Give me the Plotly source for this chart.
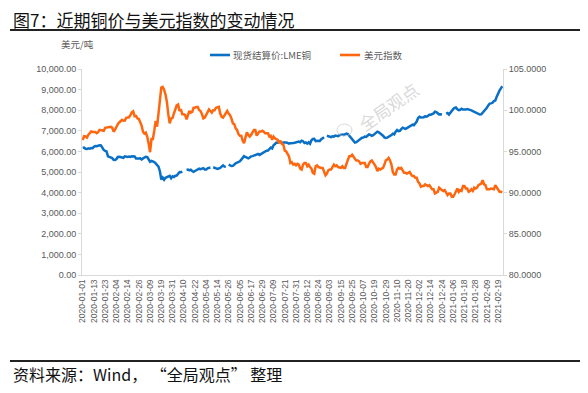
import pandas as pd
import plotly.graph_objects as go

# ---- categories: trading days shown on the axis ----
dates = [d.strftime("%Y-%m-%d") for d in pd.bdate_range("2020-01-01", "2021-02-24")
         if d.strftime("%Y-%m-%d") != "2021-01-01"]

# ---- LME copper cash settlement (USD/t), None = LME holiday ----
copper = [
    6170, 6188, 6129, 6114, 6150, 6128, 6164, 6157,
    6225, 6260, 6250, 6280, 6300, 6290, 6175, 6070,
    6020, 5995, 5760, 5730, 5720, 5680, 5590, 5580,
    5630, 5730, 5740, 5710, 5680, 5690, 5760, 5730,
    5730, 5750, 5730, 5760, 5740, 5750, 5650, 5640,
    5650, 5660, 5610, 5660, 5690, 5740, 5720, 5630,
    5500, 5540, 5520, 5480, 5420, 5330, 5260, 5040,
    4640, 4730, 4620, 4720, 4760, 4790, 4810, 4700,
    4790, 4760, 4820, 4830, 4910, 5000, 4990, 5020,
    None, None, 5100, 5120, 5080, 5110, 5050, 5010,
    5050, 5090, 5110, 5160, 5140, 5170, 5190, 5120,
    5120, 5180, 5190, 5220, None, 5230, 5220, 5180,
    5150, 5170, 5200, 5260, 5320, 5260, 5250, None,
    5360, 5310, 5290, 5300, 5380, 5420, 5450, 5470,
    5520, 5600, 5690, 5770, 5730, 5680, 5660, 5700,
    5760, 5770, 5800, 5820, 5860, 5880, 5830, 5870,
    5940, 5970, 6000, 6030, 6040, 6120, 6180, 6140,
    6300, 6360, 6430, 6420, 6470, 6440, 6410, 6430,
    6440, 6430, 6410, 6380, 6400, 6420, 6410, 6420,
    6430, 6460, 6480, 6450, 6520, 6490, 6410, 6440,
    6380, 6440, 6370, 6540, 6600, 6610, 6500, 6520,
    6530, 6510, 6590, 6630, 6690, None, 6760, 6730,
    6700, 6690, 6730, 6720, 6770, 6760, 6740, 6790,
    6810, 6820, 6800, 6840, 6860, 6840, 6760, 6640,
    6580, 6490, 6430, 6450, 6500, 6560, 6620, 6660,
    6670, 6720, 6700, 6760, 6820, 6800, 6760, 6790,
    6850, 6900, 6960, 6930, 6880, 6810, 6760, 6680,
    6650, 6670, 6700, 6740, 6790, 6860, 6830, 6960,
    7040, 6980, 7000, 7080, 7150, 7120, 7090, 7130,
    7180, 7200, 7260, 7300, 7270, 7340, 7450, 7620,
    7680, 7650, 7640, 7660, 7700, 7690, 7720, 7780,
    7780, 7800, 7840, 7930, 7910, 7850, 7790, 7800,
    7790, None, None, 7830, 7860, 7790, 7900, 7950,
    8050, 8110, 8130, 8040, 8000, 8020, 8070, 8030,
    8020, 8030, 8050, 8040, 8020, 7990, 7960, 7930,
    7920, 7860, 7820, 7790, 7800, 7870, 7950, 8030,
    8120, 8230, 8320, 8330, 8360, 8440, 8470, 8650,
    8820, 8950, 9060, 9160,
]

# ---- US dollar index ----
dxy = [
    96.39, 96.84, 96.81, 96.67, 97.00, 97.29, 97.42, 97.36,
    97.35, 97.36, 97.22, 97.33, 97.62, 97.57, 97.55, 97.51,
    97.86, 97.88, 97.99, 97.97, 97.99, 97.89, 97.39, 97.61,
    97.99, 98.31, 98.51, 98.69, 98.84, 98.72, 98.73, 99.07,
    99.11, 99.14, 99.39, 99.73, 99.86, 99.26, 99.30, 99.01,
    98.93, 98.47, 98.13, 97.36, 97.16, 97.27, 96.78, 95.95,
    94.90, 96.50, 96.50, 97.50, 98.70, 98.00, 99.60, 101.20,
    102.75, 102.82, 102.50, 101.90, 101.00, 99.50, 98.40, 99.00,
    99.05, 99.60, 100.10, 100.60, 100.70, 99.90, 100.10, 99.50,
    99.50, 99.40, 98.90, 99.50, 99.90, 99.70, 99.80, 100.30,
    100.30, 100.40, 100.40, 100.00, 99.90, 99.50, 99.00, 99.10,
    99.50, 99.80, 100.10, 99.90, 99.70, 100.00, 100.00, 100.30,
    100.40, 100.40, 99.60, 99.20, 99.10, 99.40, 99.70, 99.90,
    99.60, 99.40, 99.00, 98.40, 98.30, 97.80, 97.60, 97.10,
    96.90, 96.90, 96.30, 96.00, 96.70, 97.30, 97.00, 96.80,
    97.00, 97.40, 97.60, 97.60, 96.90, 97.20, 97.40, 97.40,
    97.50, 97.40, 97.20, 97.20, 97.20, 96.80, 96.90, 96.40,
    96.80, 96.60, 96.50, 96.40, 96.00, 96.30, 95.90, 95.80,
    95.10, 95.00, 94.70, 94.40, 93.60, 93.70, 93.40, 93.50,
    93.30, 93.50, 93.40, 92.90, 92.80, 93.40, 93.60, 93.60,
    93.20, 93.40, 93.10, 92.90, 92.40, 92.30, 93.20, 93.30,
    93.10, 93.00, 93.00, 93.00, 92.40, 92.10, 92.30, 92.70,
    92.80, 92.80, 93.10, 93.40, 93.20, 93.30, 93.10, 93.00,
    93.00, 93.20, 93.00, 93.00, 93.60, 94.00, 94.40, 94.40,
    94.60, 94.30, 94.10, 93.90, 93.90, 93.80, 93.50, 93.60,
    93.60, 93.60, 93.10, 93.10, 93.50, 93.80, 93.90, 93.70,
    93.40, 93.10, 92.60, 92.90, 92.80, 92.90, 93.00, 93.40,
    93.90, 94.00, 94.20, 93.90, 93.40, 92.50, 92.20, 92.20,
    92.80, 93.00, 92.90, 93.00, 92.60, 92.40, 92.40, 92.30,
    92.40, 92.50, 92.20, 92.00, 92.00, 91.80, 91.80, 91.30,
    91.10, 90.70, 90.80, 90.80, 91.00, 90.90, 90.80, 90.90,
    90.70, 90.40, 90.40, 89.90, 90.00, 90.10, 90.60, 90.40,
    90.30, 90.20, 90.30, 90.00, 89.70, 89.90, 89.90, 89.50,
    89.50, 89.80, 90.10, 90.50, 90.10, 90.30, 90.20, 90.80,
    90.80, 90.50, 90.50, 90.10, 90.20, 90.40, 90.20, 90.60,
    90.50, 90.60, 90.90, 91.00, 91.10, 91.50, 91.00, 90.90,
    90.40, 90.40, 90.40, 90.50, 90.40, 90.40, 90.90, 90.60,
    90.35, 90.10, 90.10, 90.05,
]

tick_labels = dates[::8]

assert len(dates) == len(copper) == len(dxy) == 300

title_text = "图7：近期铜价与美元指数的变动情况"
source_text = "资料来源：Wind， “全局观点” 整理"
unit_text = "美元/吨"
name_copper = "现货结算价:LME铜"
name_dxy = "美元指数"

BLUE = "#0A70C6"
ORANGE = "#FF670F"
GREY = "#595959"
AXIS = "#D9D9D9"

fig = go.Figure()
fig.add_trace(go.Scatter(x=dates, y=copper, name=name_copper, mode="lines",
                         line=dict(color=BLUE, width=2.5), connectgaps=False))
fig.add_trace(go.Scatter(x=dates, y=dxy, name=name_dxy, mode="lines", yaxis="y2",
                         line=dict(color=ORANGE, width=2.5)))

# the page body has an 8px margin: work in window pixels, shifted by OFF
OFF = 8
L, R, T, B = 82 - OFF, 503 - OFF, 69 - OFF, 275 - OFF
W, H = 588 - OFF, 393 - OFF
pw, ph = R - L, B - T


def px(x):
    return (x - OFF - L) / pw


def py(y):
    return (B - (y - OFF)) / ph


tick_font = dict(family="Liberation Sans, Arial, sans-serif", size=9, color=GREY)

fig.update_layout(
    width=W, height=H,
    margin=dict(l=L, r=W - R, t=T, b=H - B),
    paper_bgcolor="white", plot_bgcolor="white",
    showlegend=False,
    xaxis=dict(type="category", range=[-0.5, len(dates) - 0.5],
               tickmode="array", tickvals=tick_labels, ticktext=tick_labels,
               tickangle=-90, tickfont=dict(family="Liberation Sans, Arial, sans-serif", size=8.5, color=GREY),
               showgrid=False, showline=True, linecolor=AXIS, linewidth=1,
               ticks="", zeroline=False),
    yaxis=dict(range=[0, 10000], dtick=1000, tickformat=",.2f",
               tickfont=tick_font, showgrid=False, showline=True,
               linecolor=AXIS, linewidth=1, ticks="outside", ticklen=3,
               tickcolor=AXIS, zeroline=False),
    yaxis2=dict(range=[80, 105], dtick=5, tickformat=".4f", overlaying="y",
                side="right", tickfont=tick_font, showgrid=False, showline=True,
                linecolor=AXIS, linewidth=1, ticks="outside", ticklen=3,
                tickcolor=AXIS, zeroline=False),
)

annotations = [
    dict(text=title_text, x=px(11), y=py(19), xref="paper", yref="paper",
         xanchor="left", yanchor="middle", showarrow=False,
         font=dict(family="Noto Sans CJK SC", size=17, color="#111111")),
    dict(text=source_text, x=px(11), y=py(374), xref="paper", yref="paper",
         xanchor="left", yanchor="middle", showarrow=False,
         font=dict(family="Noto Sans CJK SC", size=16, color="#111111")),
    dict(text=unit_text, x=px(59), y=py(44), xref="paper", yref="paper",
         xanchor="left", yanchor="middle", showarrow=False,
         font=dict(family="Noto Sans CJK SC", size=9.5, color=GREY)),
    dict(text=name_copper, x=px(231), y=py(55), xref="paper", yref="paper",
         xanchor="left", yanchor="middle", showarrow=False,
         font=dict(family="Noto Sans CJK SC", size=9.5, color=GREY)),
    dict(text=name_dxy, x=px(362), y=py(55), xref="paper", yref="paper",
         xanchor="left", yanchor="middle", showarrow=False,
         font=dict(family="Noto Sans CJK SC", size=9.5, color=GREY)),
    dict(text="全局观点", x=px(388), y=py(106), xref="paper", yref="paper",
         xanchor="center", yanchor="middle", showarrow=False, textangle=-35,
         font=dict(family="Noto Sans CJK SC", size=17, color="rgba(200,200,200,0.7)")),
]

shapes = [
    dict(type="line", xref="paper", yref="paper", x0=px(10), x1=px(581),
         y0=py(30), y1=py(30), line=dict(color="#222222", width=2)),
    dict(type="line", xref="paper", yref="paper", x0=px(10), x1=px(581),
         y0=py(361), y1=py(361), line=dict(color="#222222", width=2)),
    dict(type="line", xref="paper", yref="paper", x0=px(210), x1=px(230),
         y0=py(55), y1=py(55), line=dict(color=BLUE, width=2.6)),
    dict(type="line", xref="paper", yref="paper", x0=px(340), x1=px(360),
         y0=py(55), y1=py(55), line=dict(color=ORANGE, width=2.6)),
    dict(type="circle", xref="paper", yref="paper", x0=px(337), x1=px(352),
         y0=py(136), y1=py(124), line=dict(color="rgba(200,200,200,0.7)", width=1)),
]

fig.update_layout(annotations=annotations, shapes=shapes)
fig.write_html("out.html")
